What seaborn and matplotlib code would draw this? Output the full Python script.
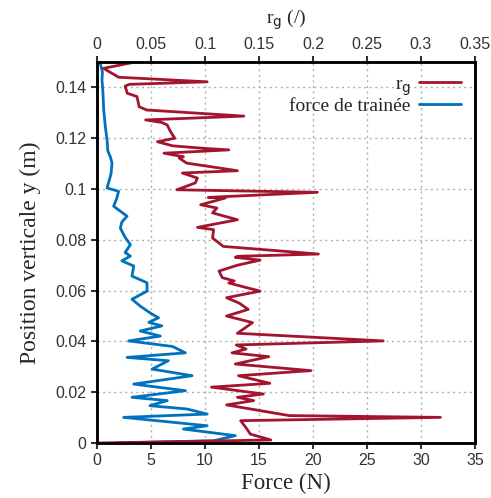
import matplotlib
matplotlib.use("Agg")
import matplotlib.pyplot as plt
import seaborn as sns
import pandas as pd

# r_g profile
y_rg = [0.1497, 0.1475, 0.1440, 0.1422, 0.1412, 0.1405, 0.1377, 0.1364, 0.1324, 0.1311,
        0.1287, 0.1272, 0.1262, 0.1252, 0.1226, 0.1200, 0.1186, 0.1170, 0.1160, 0.1154,
        0.1141, 0.1127, 0.1122, 0.1102, 0.1072, 0.1063, 0.1043, 0.1024, 0.0997, 0.0987,
        0.0967, 0.0965, 0.0952, 0.0938, 0.0925, 0.0906, 0.0879, 0.0849, 0.0840, 0.0807,
        0.0774, 0.0744, 0.0735, 0.0731, 0.0720, 0.0700, 0.0677, 0.0651, 0.0638, 0.0630,
        0.0598, 0.0572, 0.0550, 0.0526, 0.0500, 0.0474, 0.0432, 0.0402, 0.0386, 0.0370,
        0.0355, 0.0340, 0.0311, 0.0285, 0.0265, 0.0235, 0.0220, 0.0193, 0.0180, 0.0167,
        0.0150, 0.0108, 0.0101, 0.0088, 0.0060, 0.0035, 0.0012, 0.0000]
rg = [0.032, 0.006, 0.020, 0.102, 0.030, 0.026, 0.028, 0.037, 0.039, 0.046,
      0.136, 0.045, 0.060, 0.065, 0.068, 0.072, 0.056, 0.070, 0.099, 0.122,
      0.062, 0.080, 0.076, 0.083, 0.130, 0.079, 0.093, 0.091, 0.074, 0.204,
      0.103, 0.119, 0.108, 0.096, 0.111, 0.107, 0.130, 0.093, 0.108, 0.107,
      0.117, 0.205, 0.130, 0.128, 0.151, 0.130, 0.113, 0.116, 0.127, 0.122,
      0.151, 0.120, 0.132, 0.140, 0.120, 0.144, 0.130, 0.265, 0.129, 0.138,
      0.125, 0.159, 0.128, 0.198, 0.131, 0.160, 0.106, 0.154, 0.130, 0.145,
      0.120, 0.178, 0.318, 0.133, 0.138, 0.142, 0.161, 0.000]

# drag force profile
y_force = [0.1500, 0.1495, 0.1460, 0.1429, 0.1380, 0.1311, 0.1245, 0.1193, 0.1150, 0.1127,
           0.1102, 0.1060, 0.1030, 0.1004, 0.0991, 0.0960, 0.0932, 0.0893, 0.0870, 0.0846,
           0.0810, 0.0781, 0.0750, 0.0736, 0.0717, 0.0697, 0.0657, 0.0631, 0.0598, 0.0566,
           0.0539, 0.0510, 0.0493, 0.0475, 0.0461, 0.0441, 0.0421, 0.0402, 0.0380, 0.0355,
           0.0337, 0.0324, 0.0291, 0.0265, 0.0232, 0.0206, 0.0180, 0.0167, 0.0147, 0.0134,
           0.0114, 0.0101, 0.0068, 0.0055, 0.0029, 0.0009, 0.0000]
force = [0.0, 0.3, 0.5, 0.46, 0.55, 0.62, 0.77, 0.93, 1.0, 1.23,
         1.39, 1.3, 1.1, 0.93, 2.0, 1.8, 1.54, 2.78, 2.3, 2.16,
         2.6, 3.09, 2.6, 3.09, 2.3, 3.4, 3.24, 4.63, 4.63, 3.24,
         4.0, 5.0, 5.7, 4.8, 6.0, 4.0, 5.86, 2.93, 7.0, 8.18,
         2.78, 6.6, 5.1, 8.8, 3.4, 8.18, 3.24, 6.5, 4.9, 8.33,
         10.2, 2.47, 10.2, 8.0, 12.8, 10.8, 1.8]

force_ticks = [0, 5, 10, 15, 20, 25, 30, 35]
rg_ticks = [0, 0.05, 0.1, 0.15, 0.2, 0.25, 0.3, 0.35]
y_ticks = [0, 0.02, 0.04, 0.06, 0.08, 0.1, 0.12, 0.14]

RED = "#A3142F"
BLUE = "#0072BD"

sns.set_style("ticks")
plt.rcParams["font.family"] = ["Liberation Sans", "DejaVu Sans"]
serif = ["Liberation Serif", "DejaVu Serif"]

fig = plt.figure(figsize=(4.91, 4.98), dpi=100)
ax = fig.add_axes([0.1976, 0.1104, 0.7698, 0.7651])
ax2 = ax.twiny()

df_f = pd.DataFrame({"force": force, "y": y_force})
df_r = pd.DataFrame({"rg": rg, "y": y_rg})
sns.lineplot(data=df_f, x="force", y="y", sort=False, estimator=None,
             color=BLUE, lw=2.0, ax=ax, label="force de trainée", legend=False)
sns.lineplot(data=df_r, x="rg", y="y", sort=False, estimator=None,
             color=RED, lw=2.0, ax=ax2, label="r$_\\mathrm{g}$", legend=False)

ax.set_xlim(0, 35)
ax2.set_xlim(0, 0.35)
ax.set_ylim(0, 0.15)
ax.set_xticks(force_ticks)
ax.set_xticklabels([f"{t:g}" for t in force_ticks])
ax2.set_xticks(rg_ticks)
ax2.set_xticklabels([f"{t:g}" for t in rg_ticks])
ax.set_yticks(y_ticks)
ax.set_yticklabels([f"{t:g}" for t in y_ticks])

ax.grid(True, color="#b0b0b0", linestyle=(0, (1.5, 2.5)), linewidth=1.0)
ax.set_axisbelow(True)

for a in (ax, ax2):
    for s in a.spines.values():
        s.set_linewidth(1.8)
        s.set_color("black")
    a.tick_params(labelsize=11.5, width=1.5, length=4, direction="out", colors="#333333")

ax.set_xlabel("Force (N)", family=serif, fontsize=16.5, labelpad=3)
ax.set_ylabel("Position verticale y (m)", family=serif, fontsize=17, labelpad=10)
ax2.set_xlabel("r$_\\mathrm{g}$ (/)", family=serif, fontsize=14, labelpad=9)

h1, l1 = ax2.get_legend_handles_labels()
h2, l2 = ax.get_legend_handles_labels()
leg = ax2.legend(h1 + h2, l1 + l2, loc="upper right", frameon=False, markerfirst=False,
                 prop={"family": serif, "size": 14}, handlelength=2.2,
                 borderaxespad=0.3, labelspacing=0.0, handletextpad=0.4)

fig.savefig("out.png", dpi=100)
plt.close(fig)
